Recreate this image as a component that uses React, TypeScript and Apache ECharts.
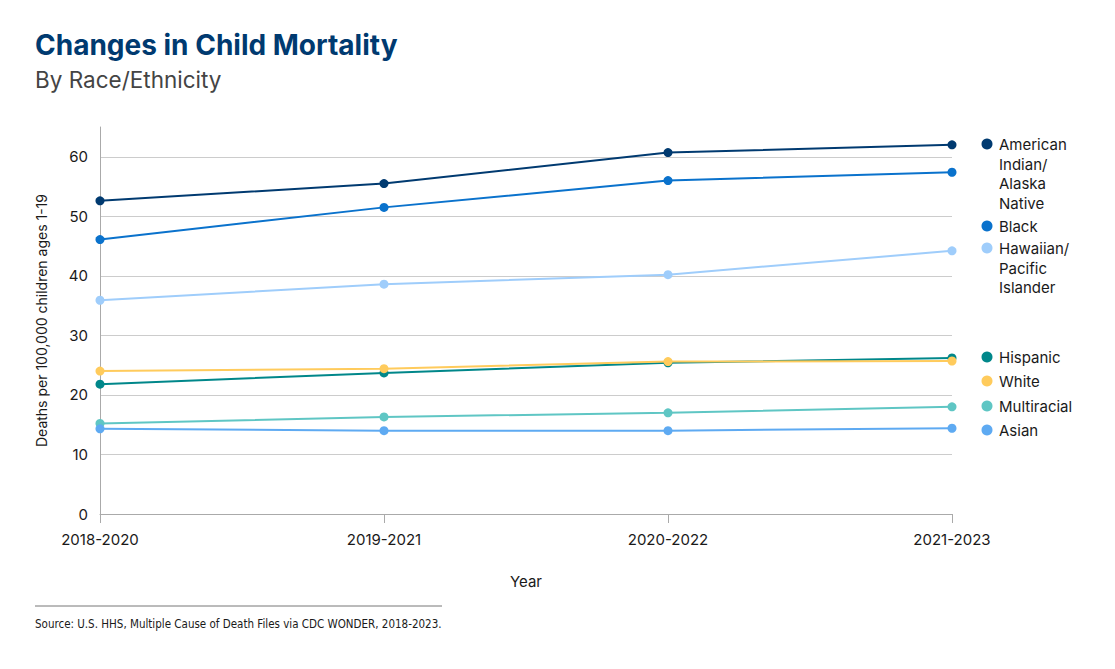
import React, { useEffect, useRef } from "react";
import * as echarts from "echarts";

const categories = ["2018-2020", "2019-2021", "2020-2022", "2021-2023"];
const seriesNames = [
  "American Indian/ Alaska Native",
  "Black",
  "Hawaiian/ Pacific Islander",
  "Hispanic",
  "White",
  "Multiracial",
  "Asian",
];
const amIndian = [52.6, 55.5, 60.7, 62.0];
const black = [46.1, 51.5, 56.0, 57.4];
const hawaiian = [35.9, 38.6, 40.2, 44.2];
const hispanic = [21.8, 23.7, 25.4, 26.2];
const white = [24.0, 24.4, 25.6, 25.7];
const multiracial = [15.2, 16.3, 17.0, 18.0];
const asian = [14.3, 14.0, 14.0, 14.4];
const seriesValues = [amIndian, black, hawaiian, hispanic, white, multiracial, asian];
const seriesColors = ["#003a70", "#0a72cc", "#9fcdfb", "#00878a", "#ffcb5c", "#5fc6c4", "#5eaaf2"];
const legendLabels = [
  "American\nIndian/\nAlaska\nNative",
  "Black",
  "Hawaiian/\nPacific\nIslander",
  "Hispanic",
  "White",
  "Multiracial",
  "Asian",
];
const legendTops = [144, 226, 248, 357, 381, 406, 430];

const FONT = "Inter, 'Noto Sans', sans-serif";

export default function App() {
  const ref = useRef<HTMLDivElement>(null);
  useEffect(() => {
    if (!ref.current) return;
    const chart = echarts.init(ref.current, undefined, { renderer: "svg" });
    const legendGraphics: any[] = [];
    legendLabels.forEach((lbl, i) => {
      legendGraphics.push({
        type: "circle",
        shape: { cx: 987, cy: legendTops[i], r: 5.5 },
        style: { fill: seriesColors[i] },
      });
      legendGraphics.push({
        type: "text",
        x: 999,
        y: legendTops[i] - 9,
        style: {
          text: lbl,
          font: `15px ${FONT}`,
          fill: "#1a1a1a",
          lineHeight: 19.5,
          verticalAlign: "top",
        },
      });
    });
    chart.setOption({
      animation: false,
      backgroundColor: "#ffffff",
      textStyle: { fontFamily: FONT },
      grid: { left: 100, right: 163, top: 127, bottom: 155 },
      xAxis: {
        type: "category",
        data: categories,
        boundaryGap: false,
        name: "Year",
        nameLocation: "middle",
        nameGap: 60,
        nameTextStyle: { fontSize: 15, color: "#1a1a1a", fontFamily: FONT },
        axisLine: { lineStyle: { color: "#aaaaaa", width: 1 } },
        axisTick: { show: true, length: 9, lineStyle: { color: "#aaaaaa" } },
        axisLabel: { fontSize: 15, color: "#1a1a1a", margin: 18, fontFamily: FONT },
        splitLine: { show: false },
      },
      yAxis: {
        type: "value",
        min: 0,
        max: 65,
        interval: 10,
        name: "Deaths per 100,000 children ages 1-19",
        nameLocation: "middle",
        nameGap: 52,
        nameRotate: 90,
        nameTextStyle: { fontSize: 14, color: "#1a1a1a", fontFamily: FONT },
        axisLine: { show: true, lineStyle: { color: "#aaaaaa", width: 1 } },
        axisTick: { show: false },
        axisLabel: { fontSize: 15, color: "#1a1a1a", margin: 12, showMaxLabel: false, fontFamily: FONT },
        splitLine: { show: true, showMaxLine: false, lineStyle: { color: "#cccccc", width: 1 } },
      },
      series: seriesNames.map((n, i) => ({
        name: n,
        type: "line",
        data: seriesValues[i],
        symbol: "circle",
        symbolSize: 9,
        lineStyle: { width: 2, color: seriesColors[i] },
        itemStyle: { color: seriesColors[i] },
        z: 2 + i,
      })),
      graphic: [
        {
          type: "text",
          x: 35,
          y: 31,
          style: { text: "Changes in Child Mortality", font: `bold 28px ${FONT}`, fill: "#003a70" },
        },
        {
          type: "text",
          x: 35,
          y: 68,
          style: { text: "By Race/Ethnicity", font: `22.5px ${FONT}`, fill: "#444444" },
        },
        {
          type: "line",
          shape: { x1: 35, y1: 606, x2: 442, y2: 606 },
          style: { stroke: "#777777", lineWidth: 1 },
        },
        {
          type: "text",
          x: 35,
          y: 617,
          scaleX: 0.885,
          style: {
            text: "Source: U.S. HHS, Multiple Cause of Death Files via CDC WONDER, 2018-2023.",
            font: `13px 'Liberation Sans Narrow', 'DejaVu Sans Condensed', ${FONT}`,
            fill: "#1a1a1a",
          },
        },
        ...legendGraphics,
      ],
    });
    return () => chart.dispose();
  }, []);
  return (
    <div
      ref={ref}
      style={{ position: "fixed", left: 0, top: 0, width: 1115, height: 669, background: "#fff" }}
    />
  );
}
